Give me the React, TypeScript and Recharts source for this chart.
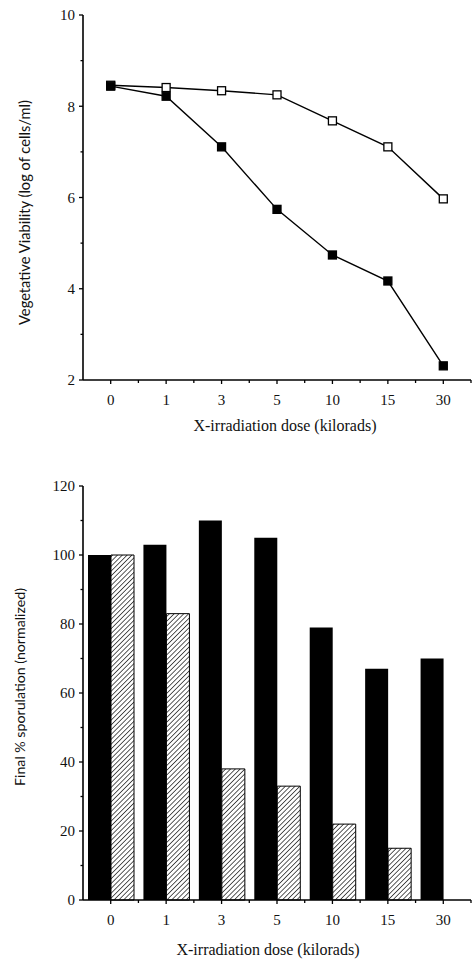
import React from 'react';
import { LineChart, Line, BarChart, Bar, XAxis, YAxis } from 'recharts';

const doses = ['0', '1', '3', '5', '10', '15', '30'];
const viabilityOpen = [8.46, 8.41, 8.34, 8.25, 7.68, 7.11, 5.97];
const viabilityFilled = [8.44, 8.22, 7.11, 5.74, 4.74, 4.17, 2.31];
const sporulationSolid = [100, 103, 110, 105, 79, 67, 70];
const sporulationHatched = [100, 83, 38, 33, 22, 15, 0];
const viabilityTicks = [2, 3, 4, 5, 6, 7, 8, 9, 10];
const sporulationTicks = [0, 10, 20, 30, 40, 50, 60, 70, 80, 90, 100, 110, 120];

const lineData = doses.map((d, i) => ({ dose: d, open: viabilityOpen[i], filled: viabilityFilled[i] }));
const barData = doses.map((d, i) => ({ dose: d, solid: sporulationSolid[i], hatched: sporulationHatched[i] }));

const TICK_FONT = 'Liberation Serif';
const Y_MARGIN = 8;
const HALF_BAND = 27.7;

const YTick = (props: any) => {
  const { x, y, payload, step } = props;
  const ax = x + Y_MARGIN;
  const major = payload.value % step === 0;
  return (
    <g>
      <line x1={ax - (major ? 4 : 2.5)} x2={ax} y1={y} y2={y} stroke="#000" strokeWidth={1.3} />
      {major && (
        <text x={ax - 8} y={y} dy="0.35em" textAnchor="end" fontFamily={TICK_FONT} fontSize={15} fill="#111">
          {payload.value}
        </text>
      )}
    </g>
  );
};

const XTick = (props: any) => {
  const { x, y, payload } = props;
  const half = payload.offset || HALF_BAND;
  return (
    <g>
      <line x1={x} x2={x} y1={y} y2={y + 4} stroke="#000" strokeWidth={1.3} />
      <line x1={x + half} x2={x + half} y1={y} y2={y + 3} stroke="#000" strokeWidth={1.3} />
      <text x={x} y={y + 25} textAnchor="middle" fontFamily={TICK_FONT} fontSize={15} fill="#111">
        {payload.value}
      </text>
    </g>
  );
};

const YTitle = (props: any) => {
  const { viewBox, value, cx, dy, size } = props;
  const x = viewBox.x + cx;
  const y = viewBox.y + viewBox.height / 2 + dy;
  return (
    <text
      x={x}
      y={y}
      transform={`rotate(-90, ${x}, ${y})`}
      dy="0.35em"
      textAnchor="middle"
      fontFamily="Lato"
      fontSize={size}
      fill="#111"
    >
      {value}
    </text>
  );
};

const XTitle = (props: any) => {
  const { viewBox, value, dx, baseline } = props;
  const x = viewBox.x + viewBox.width / 2 + dx;
  const y = viewBox.y + baseline;
  return (
    <text x={x} y={y} textAnchor="middle" fontFamily={TICK_FONT} fontSize={16} fill="#111">
      {value}
    </text>
  );
};

const SquareDot = (props: any) => {
  const { cx, cy, fill } = props;
  if (cx == null || cy == null) return null;
  return <rect x={cx - 4} y={cy - 4} width={8} height={8} fill={fill} stroke="#000" strokeWidth={1.3} />;
};

export default function App() {
  return (
    <div style={{ position: 'absolute', left: 0, top: 0, width: 472, height: 960, background: '#fff' }}>
      <svg width={0} height={0} style={{ position: 'absolute' }}>
        <defs>
          <pattern id="hatch" patternUnits="userSpaceOnUse" width={3.4} height={3.4} patternTransform="rotate(45)">
            <rect x={0} y={0} width={3.4} height={3.4} fill="#fff" />
            <line x1={0} y1={0} x2={0} y2={3.4} stroke="#000" strokeWidth={1.3} />
          </pattern>
        </defs>
      </svg>
      <div style={{ position: 'absolute', left: 0, top: 0 }}>
        <LineChart width={472} height={450} data={lineData} margin={{ top: 15, right: 1, bottom: 0, left: 0 }}>
          <XAxis
            dataKey="dose"
            type="category"
            height={70}
            padding={{ left: HALF_BAND, right: HALF_BAND }}
            tickSize={0}
            tickMargin={0}
            tickLine={false}
            axisLine={{ stroke: '#000', strokeWidth: 1.4 }}
            tick={(p: any) => <XTick {...p} />}
            interval={0}
            label={<XTitle value="X-irradiation dose (kilorads)" dx={8} baseline={51} />}
          />
          <YAxis
            type="number"
            domain={[2, 10]}
            ticks={viabilityTicks}
            width={83}
            tickSize={0}
            tickMargin={Y_MARGIN}
            tickLine={false}
            interval={0}
            axisLine={{ stroke: '#000', strokeWidth: 1.6 }}
            tick={(p: any) => <YTick {...p} step={2} />}
            label={<YTitle value="Vegetative Viability (log of cells/ml)" cx={25} dy={15} size={14.7} />}
          />
          <Line
            dataKey="open"
            stroke="#000"
            strokeWidth={1.4}
            isAnimationActive={false}
            dot={<SquareDot fill="#fff" />}
          />
          <Line
            dataKey="filled"
            stroke="#000"
            strokeWidth={1.4}
            isAnimationActive={false}
            dot={<SquareDot fill="#000" />}
          />
        </LineChart>
      </div>
      <div style={{ position: 'absolute', left: 0, top: 470 }}>
        <BarChart
          width={472}
          height={490}
          data={barData}
          margin={{ top: 16, right: 1, bottom: 0, left: 0 }}
          barCategoryGap={5}
          barGap={0}
        >
          <XAxis
            dataKey="dose"
            type="category"
            height={60}
            tickSize={0}
            tickMargin={0}
            tickLine={false}
            axisLine={{ stroke: '#000', strokeWidth: 1.4 }}
            tick={(p: any) => <XTick {...p} />}
            interval={0}
            label={<XTitle value="X-irradiation dose (kilorads)" dx={-9} baseline={55} />}
          />
          <YAxis
            type="number"
            domain={[0, 120]}
            ticks={sporulationTicks}
            width={83}
            tickSize={0}
            tickMargin={Y_MARGIN}
            tickLine={false}
            interval={0}
            axisLine={{ stroke: '#000', strokeWidth: 1.6 }}
            tick={(p: any) => <YTick {...p} step={20} />}
            label={<YTitle value="Final % sporulation (normalized)" cx={20} dy={-6} size={14.2} />}
          />
          <Bar dataKey="solid" fill="#000" isAnimationActive={false} />
          <Bar dataKey="hatched" fill="url(#hatch)" stroke="#000" strokeWidth={1} isAnimationActive={false} />
        </BarChart>
      </div>
    </div>
  );
}
